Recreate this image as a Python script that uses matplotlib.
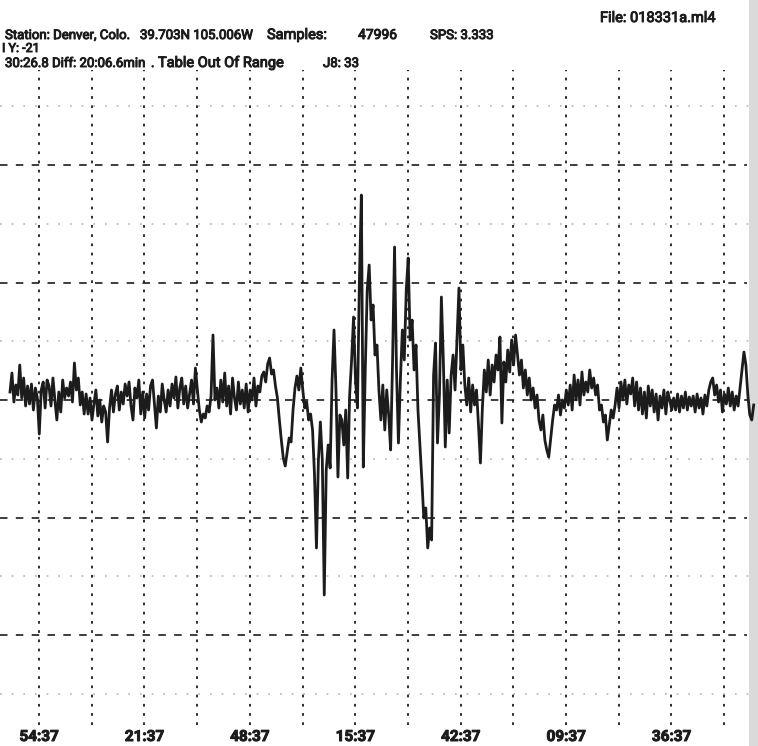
#!/usr/bin/env python3
"""Redraw of a scanned Denver seismogram page (file 018331a.ml4)."""

import numpy as np
import matplotlib
matplotlib.use('Agg')
import matplotlib.pyplot as plt
import matplotlib.patheffects as pe

# ---- data -------------------------------------------------------------
# sample clock: minutes after the 54:37 grid line, one value every 0.5 min
T_START = -7.43
T_STEP = 0.5

# ground motion, counts (positive up), read block by block from the trace
amplitude = [
    8, 27, -2, 15, 5, 35, 2, 22, -6, 14,
    -4, 16, -10, 12, 2, -34, 10, 18, -8, 20,
    14, -6, 22, 0, -20, 8, -12, 20, 2, 12,
    4, 18, -2, 37, 10, 22, -5, 8, -14, 6,
    -14, 2, -20, -4, 10, -16, 0, -22, -6, -12,
    -42, -8, 10, -12, 6, 14, -10, 8, -4, 16,
    4, 18, -6, -20, 12, 2, 20, -14, 8, -18,
    6, -10, 14, 20, -4, -28, 4, -12, 16, 0,
    -12, 10, -6, 16, 2, 23, -8, 12, 22, -4,
    14, -8, 6, 20, -4, 32, 10, -10, -22, -14,
    -18, -6, -12, 4, 65, 0, 12, -8, 20, -2,
    27, -6, 14, -14, 22, 2, -10, 18, -4, 10,
    -8, 16, -12, 10, 0, 22, -6, 14, 8, 24,
    28, 18, 36, 42, 26, 30, 14, 2, -20, -40,
    -58, -66, -52, -38, -42, -10, 12, 24, 10, 32,
    10, -8, -2, -20, -14, -30, -75, -148, -60, -22,
    -60, -195, -70, -45, -68, 20, 70, 10, -77, -15,
    -20, -45, -10, -78, 5, 40, 83, 20, -8, 120,
    205, -67, 30, 110, 135, 80, 95, 45, 55, 10,
    -20, 15, -30, 10, -15, -50, 40, 153, 30, -43,
    20, 70, 40, 110, 142, 60, 80, 30, 55, -10,
    -45, -80, -118, -108, -148, -128, -140, 25, 57, -43,
    5, 103, 40, -47, 20, -33, 25, 45, 10, 60,
    112, 30, 55, 15, -5, 22, -12, 15, -5, 10,
    -25, -63, -8, 30, 8, 40, 5, 35, 18, 45,
    30, 63, -23, 38, 18, 50, 28, 60, 35, 65,
    45, 25, 40, 12, 30, 5, 22, 0, 12, -8,
    5, -20, -30, -15, -40, -50, -57, -38, -20, -5,
    -10, 5, -15, 0, -8, 10, -5, 15, -10, 25,
    0, 20, -5, 28, 5, 18, 8, 30, 12, 22,
    5, 15, -10, -5, -22, -15, -40, -25, -10, -18,
    -5, 12, -8, 18, 0, 20, -4, 15, 6, 22,
    -6, 18, -10, 12, -14, 8, -18, 14, -6, 10,
    -12, 6, -20, 4, -8, 10, -14, 8, 0, -10,
    2, -10, 6, -12, 4, -8, 8, -10, 3, -6,
    4, -12, 6, -8, 2, -14, 5, -6, 10, 18,
    22, 5, 15, -2, 10, -12, 6, -4, 12, -6,
    8, -10, 4, -6, 12, 30, 48, 35, 5, -15,
    -20, -5,
]

time_labels = ['54:37', '21:37', '48:37', '15:37', '42:37', '09:37', '36:37']
LABEL_STEP = 27.0      # minutes between labelled lines
GRID_STEP_T = 13.5     # minutes between dotted lines
N_VLINES = 14
GRID_STEP_Y = 117.5    # counts between dashed lines
N_HSTEPS = 2           # dashed lines each side of zero (+ zero line)

# header pieces: (text, left px, baseline px, size)
header = [
    ('Station: Denver, Colo.', 5, 39, 9.5),
    ('39.703N 105.006W', 140, 39, 9.5),
    ('Samples:', 267, 39, 10.5),
    ('47996', 358, 39, 10.0),
    ('SPS: 3.333', 430, 39, 9.5),
    ('I Y: -21', 2, 52, 9.0),
    ('30:26.8 Diff: 20:06.6min', 5, 67, 9.5),
    ('.', 151, 67, 9.5),
    ('Table Out Of Range', 158, 67, 10.5),
    ('J8: 33', 323, 67, 9.5),
    ('File: 018331a.ml4', 600, 22, 10.5),
]

# ---- figure -----------------------------------------------------------
fig = plt.figure(figsize=(7.58, 7.46), dpi=100)
ax = fig.add_axes([0, 0, 1, 1])
ax.set_xlim(-9.99, 184.17)
ax.set_ylim(-346, 400)
ax.axis('off')

INK = '#1c1c1c'
FONT = ['Roboto', 'DejaVu Sans']
BOLDEN = [pe.withStroke(linewidth=0.7, foreground=INK)]

# faint scanner-dotted minor lines
for k in range(-3, 3):
    ax.axhline((k + 0.5) * GRID_STEP_Y, color='#b4b4b4', lw=1.2,
               dashes=(1.0, 6.0), zorder=1)

# dashed horizontal grid
for k in range(-N_HSTEPS, N_HSTEPS + 1):
    ax.axhline(k * GRID_STEP_Y, color=INK, lw=1.2, dashes=(4.5, 5.0),
               xmax=0.985, zorder=2)

# dotted vertical grid
vt = np.arange(N_VLINES) * GRID_STEP_T
ax.vlines(vt, -325, 330, color=INK, lw=1.3, linestyles=(0, (1.5, 3.6)),
          zorder=2)

# trace
t = T_START + T_STEP * np.arange(len(amplitude))
ax.plot(t, amplitude, color=INK, lw=2.0, zorder=3)

# scan edge shading on the right
ax.axvspan(181.9, 184.17, color='#dadada', lw=0, zorder=0)

# time labels
for i, lab in enumerate(time_labels):
    ax.text(i * LABEL_STEP, -344, lab, ha='center', va='bottom',
            fontsize=11, fontweight='bold', color=INK, family=FONT,
            path_effects=BOLDEN, zorder=4)

# header
for txt, px, py, size in header:
    fig.text(px / 758, 1 - py / 746, txt, ha='left', va='baseline',
             fontsize=size, color=INK, family=FONT, path_effects=BOLDEN)

fig.savefig('out.png', dpi=100, facecolor='white')
